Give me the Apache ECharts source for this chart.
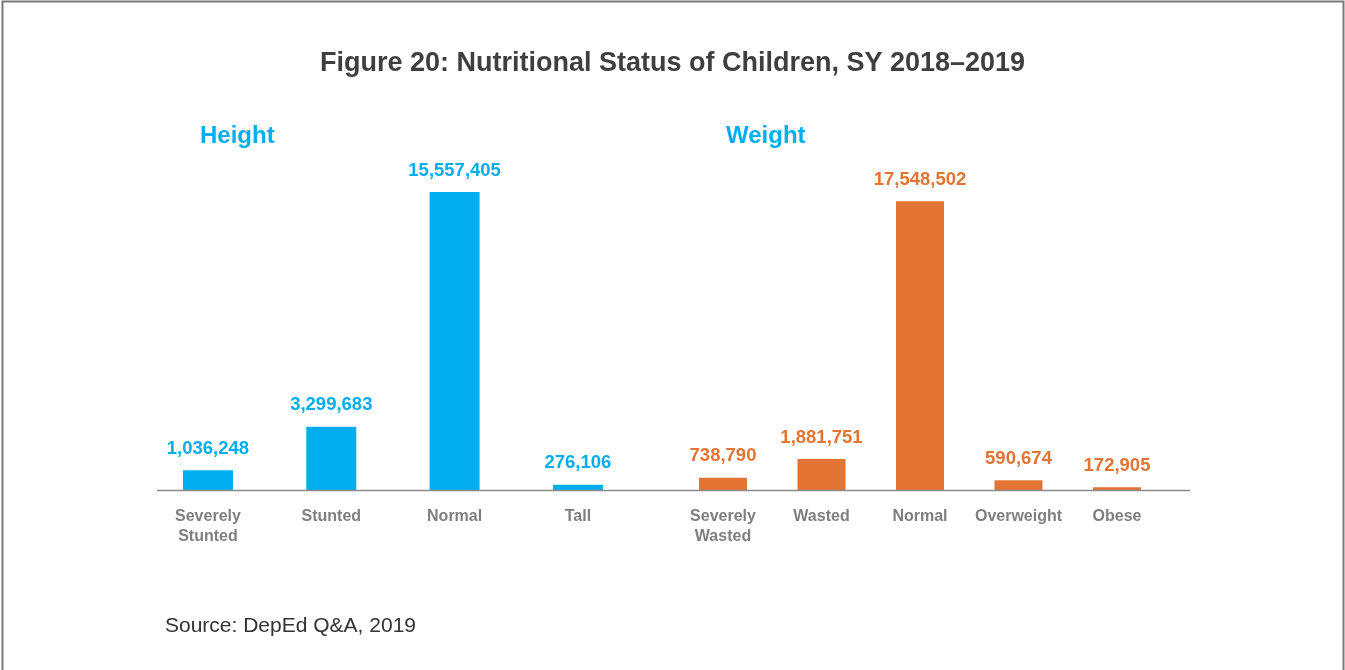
<!DOCTYPE html>
<html>
<head>
<meta charset="utf-8">
<title>Nutritional Status of Children, SY 2018–2019</title>
<script src="https://cdn.jsdelivr.net/npm/echarts@6/dist/echarts.min.js"></script>
<style>
  html, body { margin: 0; padding: 0; background: #ffffff; }
  #chart { width: 1345px; height: 670px; }
</style>
</head>
<body>
<div id="chart"></div>
<script>
// Height-for-age categories and counts
const heightCategories = ['Severely\nStunted', 'Stunted', 'Normal', 'Tall'];
const heightValues = [1036248, 3299683, 15557405, 276106];

// Weight-for-age categories and counts
const weightCategories = ['Severely\nWasted', 'Wasted', 'Normal', 'Overweight', 'Obese'];
const weightValues = [738790, 1881751, 17548502, 590674, 172905];

const BLUE = '#00AEEF';
const ORANGE = '#E37434';
const FONT = '"Liberation Sans", Arial, Helvetica, sans-serif';

const fmt = v => v.toLocaleString('en-US');

const chart = echarts.init(document.getElementById('chart'), null, { renderer: 'canvas' });

function catAxis(gridIndex, data) {
  return {
    type: 'category',
    gridIndex: gridIndex,
    data: data,
    axisLine: { show: false },
    axisTick: { show: false },
    axisLabel: {
      interval: 0,
      margin: 17,
      color: '#7f7f7f',
      fontFamily: FONT,
      fontWeight: 'bold',
      fontSize: 16,
      lineHeight: 20
    }
  };
}

function valAxis(gridIndex) {
  return {
    type: 'value',
    gridIndex: gridIndex,
    min: 0,
    max: 20000000,
    show: false,
    splitLine: { show: false }
  };
}

function barSeries(idx, values, color, width) {
  return {
    type: 'bar',
    xAxisIndex: idx,
    yAxisIndex: idx,
    data: values,
    barWidth: width,
    itemStyle: { color: color },
    label: {
      show: true,
      position: 'top',
      distance: 12,
      color: color,
      fontFamily: FONT,
      fontWeight: 'bold',
      fontSize: 18.5,
      formatter: p => fmt(p.value)
    }
  };
}

chart.setOption({
  animation: false,
  title: [
    {
      text: 'Figure 20: Nutritional Status of Children, SY 2018–2019',
      left: 'center',
      top: 45,
      textStyle: { color: '#3f3f3f', fontFamily: FONT, fontWeight: 'bold', fontSize: 27 }
    },
    {
      text: 'Height',
      left: 195,
      top: 119,
      textStyle: { color: BLUE, fontFamily: FONT, fontWeight: 'bold', fontSize: 24 }
    },
    {
      text: 'Weight',
      left: 721,
      top: 119,
      textStyle: { color: BLUE, fontFamily: FONT, fontWeight: 'bold', fontSize: 24 }
    },
    {
      text: 'Source: DepEd Q&A, 2019',
      left: 160,
      top: 611,
      textStyle: { color: '#333333', fontFamily: FONT, fontWeight: 'normal', fontSize: 21 }
    }
  ],
  grid: [
    { left: 146.3, width: 493.3, top: 107, bottom: 180 },
    { left: 673.75, width: 492.5, top: 161, bottom: 180 }
  ],
  xAxis: [catAxis(0, heightCategories), catAxis(1, weightCategories)],
  yAxis: [valAxis(0), valAxis(1)],
  series: [
    barSeries(0, heightValues, BLUE, 50),
    barSeries(1, weightValues, ORANGE, 48)
  ],
  graphic: [
    {
      // shared baseline under both panels
      type: 'line',
      shape: { x1: 157, y1: 490.5, x2: 1190, y2: 490.5 },
      style: { stroke: '#8a8a8a', lineWidth: 1.5 },
      z: 10
    },
    {
      // frame around the figure
      type: 'rect',
      shape: { x: 2.5, y: 1.5, width: 1341, height: 720 },
      style: { stroke: '#7a7a7a', lineWidth: 2, fill: 'none' },
      silent: true
    }
  ]
});
</script>
</body>
</html>
